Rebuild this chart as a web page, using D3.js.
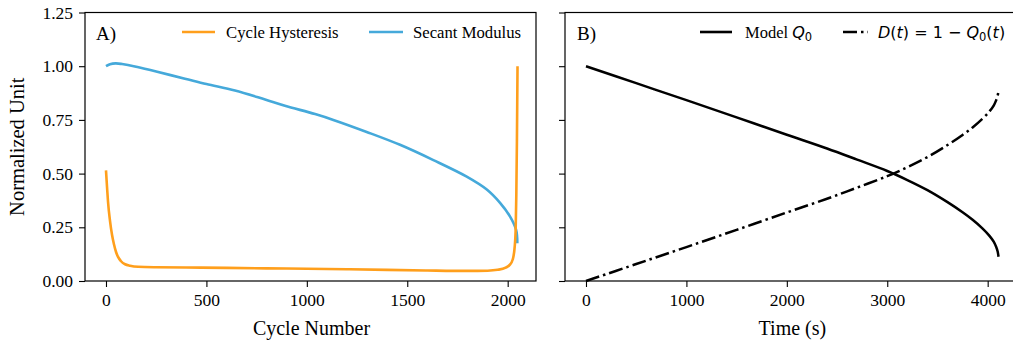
<!DOCTYPE html>
<html>
<head>
<meta charset="utf-8">
<script src="https://cdn.jsdelivr.net/npm/d3@7/dist/d3.min.js"></script>
<style>
  html, body { margin: 0; padding: 0; background: #fff; }
  svg { display: block; }
  .serif { font-family: "Liberation Serif", "Times New Roman", serif; }
  .math { font-family: "DejaVu Sans", sans-serif; }
</style>
</head>
<body>
<svg id="chart" width="1013" height="341"></svg>
<script>
// Panel A: hysteresis and secant modulus against cycle number
const cycleHystX = [0, 5, 10, 20, 30, 40, 50, 60, 75, 95, 120, 160, 250, 400, 600, 800, 1000, 1200, 1400, 1600, 1800, 1900, 1950, 1990, 2010, 2025, 2035, 2040, 2043, 2046, 2048, 2049];
const cycleHystY = [0.515, 0.44, 0.37, 0.28, 0.215, 0.17, 0.135, 0.112, 0.092, 0.078, 0.071, 0.066, 0.064, 0.063, 0.061, 0.059, 0.057, 0.055, 0.052, 0.049, 0.047, 0.048, 0.052, 0.062, 0.075, 0.10, 0.16, 0.25, 0.40, 0.65, 0.88, 1.0];

const secantX = [0, 20, 48, 80, 144, 250, 393, 500, 642, 792, 891, 1041, 1132, 1298, 1464, 1630, 1796, 1896, 1962, 2012, 2042, 2048];
const secantY = [1.0, 1.009, 1.013, 1.010, 0.999, 0.975, 0.942, 0.917, 0.887, 0.845, 0.816, 0.777, 0.750, 0.694, 0.634, 0.563, 0.486, 0.426, 0.364, 0.30, 0.238, 0.176];

// Panel B: model Q0 and damage D(t) against time
const timeS = [0, 500, 1000, 1500, 2000, 2400, 2700, 3000, 3200, 3400, 3600, 3750, 3850, 3950, 4020, 4060, 4085, 4100, 4108];
const modelQ0 = [1.0, 0.921, 0.842, 0.762, 0.681, 0.617, 0.565, 0.512, 0.470, 0.423, 0.367, 0.320, 0.285, 0.244, 0.209, 0.183, 0.158, 0.136, 0.113];
const damageD = [0.0, 0.079, 0.158, 0.238, 0.319, 0.383, 0.435, 0.488, 0.530, 0.577, 0.633, 0.680, 0.715, 0.756, 0.791, 0.817, 0.842, 0.864, 0.887];

const yTicks = [0, 0.25, 0.5, 0.75, 1.0, 1.25];
const xTicksA = [0, 500, 1000, 1500, 2000];
const xTicksB = [0, 1000, 2000, 3000, 4000];

const ORANGE = "#ff9f1c";
const BLUE = "#45a9da";

const svg = d3.select("#chart");
const plotTop = 12.5, plotBottom = 281;

const y = d3.scaleLinear().domain([0, 1.25]).range([plotBottom, plotTop]);
const xA = d3.scaleLinear().domain([-104.5, 2141]).range([85, 536]);
const xB = d3.scaleLinear().domain([-209, 4300]).range([565, 1017.8]);

function drawAxes(x, xTicks, xLabel, showYLabels, labelShift) {
  const g = svg.append("g");
  const xAxis = d3.axisBottom(x).tickValues(xTicks).tickFormat(d3.format("d"))
    .tickSize(6).tickSizeOuter(0).tickPadding(7);
  const gx = g.append("g").attr("transform", `translate(0,${plotBottom})`).call(xAxis);
  const yAxis = d3.axisLeft(y).tickValues(yTicks).tickFormat(showYLabels ? d3.format(".2f") : "")
    .tickSize(6).tickSizeOuter(0).tickPadding(6);
  const gy = g.append("g").attr("transform", `translate(${x.range()[0]},0)`).call(yAxis);
  [gx, gy].forEach(a => {
    a.select(".domain").remove();
    a.selectAll(".tick line").attr("stroke", "#000").attr("stroke-width", 1.1);
    a.selectAll(".tick text").attr("class", "serif").attr("font-size", 17.5).attr("fill", "#000");
  });
  // frame
  g.append("rect")
    .attr("x", x.range()[0]).attr("y", plotTop)
    .attr("width", x.range()[1] - x.range()[0]).attr("height", plotBottom - plotTop)
    .attr("fill", "none").attr("stroke", "#000").attr("stroke-width", 1.2);
  g.append("text").attr("class", "serif").attr("font-size", 20)
    .attr("x", (x.range()[0] + x.range()[1]) / 2 + labelShift).attr("y", 335)
    .attr("text-anchor", "middle").text(xLabel);
}

drawAxes(xA, xTicksA, "Cycle Number", true, 1);
drawAxes(xB, xTicksB, "Time (s)", false, 1);

svg.append("text").attr("class", "serif").attr("font-size", 20.5)
  .attr("transform", `translate(24,${(plotTop + plotBottom) / 2}) rotate(-90)`)
  .attr("text-anchor", "middle").text("Normalized Unit");

// panel tags
svg.append("text").attr("class", "serif").attr("font-size", 19).attr("x", 96).attr("y", 40).text("A)");
svg.append("text").attr("class", "serif").attr("font-size", 19).attr("x", 577).attr("y", 40).text("B)");

// curves: smooth spline through the sampled points
const smoothLine = d3.line().curve(d3.curveCatmullRom.alpha(0.5));
const monoLine = d3.line().curve(d3.curveMonotoneX);
function path(gen, xs, ys, xScale) {
  return gen(xs.map((v, i) => [xScale(v), y(ys[i])]));
}

svg.append("path").attr("d", path(smoothLine, secantX, secantY, xA))
  .attr("fill", "none").attr("stroke", BLUE).attr("stroke-width", 2.6).attr("stroke-linejoin", "round");
svg.append("path").attr("d", path(monoLine, cycleHystX, cycleHystY, xA))
  .attr("fill", "none").attr("stroke", ORANGE).attr("stroke-width", 2.6).attr("stroke-linejoin", "round");

const DASHDOT = "14,4,2.5,4";
svg.append("path").attr("d", path(smoothLine, timeS, modelQ0, xB))
  .attr("fill", "none").attr("stroke", "#000").attr("stroke-width", 2.5);
svg.append("path").attr("d", path(smoothLine, timeS, damageD, xB))
  .attr("fill", "none").attr("stroke", "#000").attr("stroke-width", 2.5).attr("stroke-dasharray", DASHDOT);

// legends
function legendLine(x1, x2, yy, color, dash) {
  const l = svg.append("line").attr("x1", x1).attr("x2", x2).attr("y1", yy).attr("y2", yy)
    .attr("stroke", color).attr("stroke-width", 2.6);
  if (dash) l.attr("stroke-dasharray", dash);
}
legendLine(182, 215, 32, ORANGE);
svg.append("text").attr("class", "serif").attr("font-size", 16.7).attr("x", 226).attr("y", 37.7).text("Cycle Hysteresis");
legendLine(369, 403, 32, BLUE);
svg.append("text").attr("class", "serif").attr("font-size", 16.7).attr("x", 413).attr("y", 37.7).text("Secant Modulus");

legendLine(700, 732, 32, "#000");
const t1 = svg.append("text").attr("x", 745).attr("y", 37.7);
t1.append("tspan").attr("class", "serif").attr("font-size", 16.5).text("Model ");
t1.append("tspan").attr("class", "math").attr("font-size", 16).attr("font-style", "italic").text("Q");
t1.append("tspan").attr("class", "math").attr("font-size", 11.5).attr("dy", 3).text("0");

legendLine(843, 868, 32, "#000", DASHDOT);
const t2 = svg.append("text").attr("class", "math").attr("font-size", 16).attr("x", 878).attr("y", 37.7);
t2.append("tspan").attr("font-style", "italic").text("D");
t2.append("tspan").text("(");
t2.append("tspan").attr("font-style", "italic").text("t");
t2.append("tspan").text(") = 1 − ");
t2.append("tspan").attr("font-style", "italic").text("Q");
t2.append("tspan").attr("font-size", 11.5).attr("dy", 3).text("0");
t2.append("tspan").attr("dy", -3).text("(");
t2.append("tspan").attr("font-style", "italic").text("t");
t2.append("tspan").text(")");
</script>
</body>
</html>
